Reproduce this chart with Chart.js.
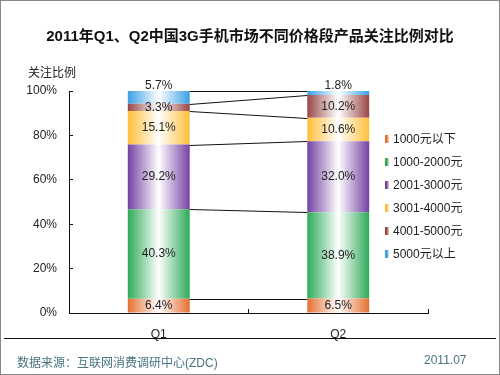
<!DOCTYPE html>
<html>
<head>
<meta charset="utf-8">
<script src="https://cdn.jsdelivr.net/npm/chart.js@4/dist/chart.umd.min.js"></script>
<style>
  html, body { margin: 0; padding: 0; background: #fff; }
  #wrap { position: relative; width: 500px; height: 375px; box-sizing: border-box; border: 1px solid #888; overflow: hidden;
          font-family: Arial, "Liberation Sans", "Noto Sans CJK SC", sans-serif; color: #222; }
  #chart { position: absolute; left: -1px; top: -1px; }
  .txt { position: absolute; white-space: nowrap; }
  #title { left: 0; width: 498px; top: 23px; text-align: center; font-size: 15px; font-weight: bold; color: #111; }
  #ylabel { left: 27px; top: 62px; font-size: 12px; }
  #rule { position: absolute; left: 3px; right: 3px; top: 337px; height: 1px; background: #111; }
  #source { left: 16px; top: 352px; font-size: 12px; color: #4a7382; }
  #date { left: 423px; top: 352px; font-size: 12px; color: #4a7382; }
  #legend { position: absolute; left: 384px; top: 126px; font-size: 12px; }
  .item { height: 23px; line-height: 18px; display: flex; align-items: center; }
  .mark { width: 4px; height: 8px; margin-right: 4px; }
</style>
</head>
<body>
<div id="wrap">
  <canvas id="chart" width="500" height="375"></canvas>
  <div class="txt" id="title">2011年Q1、Q2中国3G手机市场不同价格段产品关注比例对比</div>
  <div class="txt" id="ylabel">关注比例</div>
  <div id="legend"></div>
  <div id="rule"></div>
  <div class="txt" id="source">数据来源：互联网消费调研中心(ZDC)</div>
  <div class="txt" id="date">2011.07</div>
</div>
<script>
const quarters = ['Q1', 'Q2'];
const priceRanges = ['1000元以下', '1000-2000元', '2001-3000元', '3001-4000元', '4001-5000元', '5000元以上'];
const under1000 = [6.4, 6.5];
const from1000to2000 = [40.3, 38.9];
const from2001to3000 = [29.2, 32.0];
const from3001to4000 = [15.1, 10.6];
const from4001to5000 = [3.3, 10.2];
const over5000 = [5.7, 1.8];
const yTicks = [0, 20, 40, 60, 80, 100];

const seriesValues = [under1000, from1000to2000, from2001to3000, from3001to4000, from4001to5000, over5000];
const seriesColors = ['#e66f30', '#2daa58', '#7541a3', '#ffbf3a', '#9a4646', '#39a0e6'];
const barPct = 0.345;

// legend
const legendEl = document.getElementById('legend');
priceRanges.forEach((name, i) => {
    const c = seriesColors[i];
    legendEl.innerHTML += `<div class="item"><span class="mark" style="background:linear-gradient(to right, ${c}, ${c} 45%, #f4e8e0)"></span>${name}</div>`;
});

// horizontal gradient per bar: colour - white - colour
const barFill = (i) => (context) => {
    const chart = context.chart;
    const xScale = chart.scales.x;
    if (!xScale || !chart.chartArea || context.dataIndex === undefined) return seriesColors[i];
    const cx = xScale.getPixelForValue(context.dataIndex);
    const w = chart.chartArea.width / quarters.length * barPct;
    const g = chart.ctx.createLinearGradient(cx - w / 2, 0, cx + w / 2, 0);
    g.addColorStop(0, seriesColors[i]);
    g.addColorStop(0.5, '#ffffff');
    g.addColorStop(1, seriesColors[i]);
    return g;
};

// series lines between the stacks + value labels
const seriesLines = {
    id: 'seriesLines',
    afterDatasetsDraw(chart) {
        const ctx = chart.ctx;
        ctx.save();
        ctx.strokeStyle = '#111';
        ctx.lineWidth = 1;
        chart.data.datasets.forEach((ds, i) => {
            const bars = chart.getDatasetMeta(i).data;
            const a = bars[0], b = bars[1];
            ctx.beginPath();
            ctx.moveTo(a.x + a.width / 2, Math.round(a.y) + 0.5);
            ctx.lineTo(b.x - b.width / 2, Math.round(b.y) + 0.5);
            ctx.stroke();
        });
        ctx.font = '12px Arial, "Liberation Sans"';
        ctx.fillStyle = '#222';
        ctx.textAlign = 'center';
        ctx.textBaseline = 'middle';
        chart.data.datasets.forEach((ds, i) => {
            chart.getDatasetMeta(i).data.forEach((el, j) => {
                let y = (el.y + el.base) / 2;
                if (Math.abs(el.base - el.y) < 13 && i === chart.data.datasets.length - 1) y = el.y - 5;
                ctx.fillText(ds.data[j].toFixed(1) + '%', el.x, y);
            });
        });
        ctx.restore();
    }
};

new Chart(document.getElementById('chart'), {
    type: 'bar',
    data: {
        labels: quarters,
        datasets: priceRanges.map((name, i) => ({
            label: name,
            data: seriesValues[i],
            backgroundColor: barFill(i),
            borderWidth: 0,
            categoryPercentage: 1,
            barPercentage: barPct
        }))
    },
    options: {
        responsive: false,
        animation: false,
        layout: { padding: { top: 91, right: 72, bottom: 0, left: 0 } },
        plugins: { legend: { display: false }, tooltip: { enabled: false } },
        scales: {
            x: {
                stacked: true,
                afterFit(scale) { scale.height = 62; },
                border: { color: '#111' },
                grid: { offset: true, drawOnChartArea: false, tickLength: -4, color: '#111' },
                ticks: { padding: 18, color: '#222', font: { size: 12, family: 'Arial, "Liberation Sans"' } }
            },
            y: {
                stacked: true,
                min: 0,
                max: 100,
                afterFit(scale) { scale.width = 69; },
                afterBuildTicks(scale) { scale.ticks = yTicks.map(v => ({ value: v })); },
                border: { color: '#111' },
                grid: { drawOnChartArea: false, tickLength: -4, color: '#111' },
                ticks: { padding: 16, color: '#222', font: { size: 12, family: 'Arial, "Liberation Sans"' }, callback: v => v + '%' }
            }
        }
    },
    plugins: [seriesLines]
});
</script>
</body>
</html>
